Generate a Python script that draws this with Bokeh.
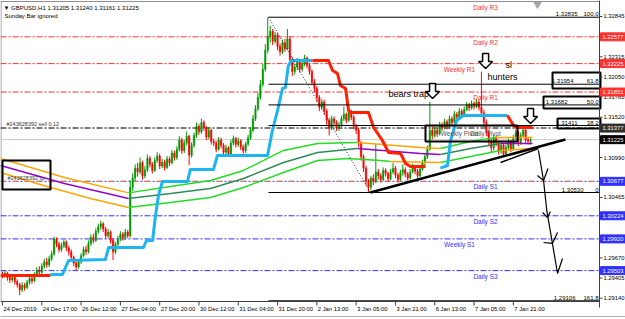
from bokeh.plotting import figure
from bokeh.models import Range1d, ColumnDataSource
from bokeh.embed import file_html
from bokeh.resources import INLINE
from bokeh.core.properties import value

# ---------------- data (GBPUSD H1) ----------------
first_open = 1.2945
closes = [
    1.2944, 1.2947, 1.2941, 1.2938, 1.2943, 1.2936, 1.2932, 1.2925, 1.2931, 1.2928,
    1.2935, 1.2940, 1.2937, 1.2945, 1.2951, 1.2948, 1.2956, 1.2962, 1.2958, 1.2966,
    1.2972, 1.2992, 1.2985, 1.2978, 1.2983, 1.2988, 1.2980, 1.2975, 1.2968, 1.2960,
    1.2955, 1.2962, 1.2970, 1.2978, 1.2975, 1.2986, 1.2994, 1.2990, 1.3002, 1.3008,
    1.3012, 1.3005, 1.2996, 1.3001, 1.2990, 1.2975, 1.2985, 1.2992, 1.2998, 1.2994,
    1.3001, 1.2996, 1.3060, 1.3072, 1.3085, 1.3080, 1.3092, 1.3075, 1.3083, 1.3098,
    1.3090, 1.3082, 1.3095, 1.3101, 1.3088, 1.3093, 1.3086, 1.3097, 1.3092, 1.3105,
    1.3099, 1.3110, 1.3122, 1.3108, 1.3118, 1.3127, 1.3102, 1.3115, 1.3128, 1.3140,
    1.3133, 1.3145, 1.3138, 1.3126, 1.3135, 1.3120, 1.3118, 1.3110, 1.3122, 1.3115,
    1.3106, 1.3112, 1.3104, 1.3118, 1.3124, 1.3116, 1.3121, 1.3113, 1.3108, 1.3117,
    1.3125, 1.3135, 1.3150, 1.3163, 1.3178, 1.3195, 1.3215, 1.3240, 1.3258, 1.3265,
    1.3252, 1.3260, 1.3245, 1.3238, 1.3250, 1.3242, 1.3255, 1.3228, 1.3212, 1.3218,
    1.3225, 1.3215, 1.3222, 1.3230, 1.3220, 1.3212, 1.3198, 1.3190, 1.3178, 1.3165,
    1.3172, 1.3160, 1.3148, 1.3138, 1.3150, 1.3145, 1.3138, 1.3142, 1.3150, 1.3156,
    1.3148, 1.3160, 1.3152, 1.3140, 1.3135, 1.3118, 1.3100, 1.3085, 1.3068, 1.3060,
    1.3072, 1.3068, 1.3080, 1.3075, 1.3070, 1.3082, 1.3078, 1.3071, 1.3080, 1.3085,
    1.3076, 1.3070, 1.3079, 1.3083, 1.3077, 1.3072, 1.3080, 1.3086, 1.3081, 1.3075,
    1.3084, 1.3092, 1.3100, 1.3110, 1.3135, 1.3128, 1.3135, 1.3130, 1.3142, 1.3138,
    1.3146, 1.3140, 1.3150, 1.3145, 1.3156, 1.3152, 1.3160, 1.3155, 1.3162, 1.3168,
    1.3164, 1.3170, 1.3166, 1.3172, 1.3165, 1.3158, 1.3145, 1.3132, 1.3120, 1.3112,
    1.3125, 1.3118, 1.3108, 1.3115, 1.3104, 1.3112, 1.3120, 1.3110, 1.3125, 1.3132,
    1.3118, 1.3128, 1.3135, 1.3122, 1.31205, 1.31225,
]
highs = [
    1.2949, 1.2950, 1.2949, 1.2944, 1.2946, 1.2945, 1.2939, 1.2934, 1.2935, 1.2934,
    1.2938, 1.2943, 1.2944, 1.2948, 1.2955, 1.2956, 1.2960, 1.2966, 1.2967, 1.2970,
    1.2976, 1.2995, 1.2994, 1.2988, 1.2987, 1.2991, 1.2990, 1.2983, 1.2978, 1.2970,
    1.2963, 1.2965, 1.2973, 1.2982, 1.2983, 1.2990, 1.2998, 1.2999, 1.3006, 1.3012,
    1.3016, 1.3014, 1.3008, 1.3005, 1.3003, 1.2993, 1.2988, 1.2996, 1.3002, 1.3001,
    1.3005, 1.3004, 1.3069, 1.3078, 1.3090, 1.3092, 1.3099, 1.3095, 1.3088, 1.3103,
    1.3101, 1.3093, 1.3099, 1.3106, 1.3104, 1.3097, 1.3096, 1.3101, 1.3100, 1.3109,
    1.3108, 1.3114, 1.3127, 1.3125, 1.3122, 1.3133, 1.3129, 1.3119, 1.3132, 1.3145,
    1.3143, 1.3150, 1.3148, 1.3140, 1.3139, 1.3137, 1.3124, 1.3121, 1.3126, 1.3125,
    1.3118, 1.3116, 1.3114, 1.3122, 1.3128, 1.3126, 1.3125, 1.3123, 1.3116, 1.3120,
    1.3129, 1.3139, 1.3155, 1.3168, 1.3184, 1.3201, 1.3222, 1.3248, 1.32835, 1.3272,
    1.3268, 1.3264, 1.3263, 1.3249, 1.3254, 1.3255, 1.3268, 1.3258, 1.3231, 1.3222,
    1.3230, 1.3228, 1.3226, 1.3234, 1.3232, 1.3223, 1.3215, 1.3202, 1.3193, 1.3181,
    1.3176, 1.3175, 1.3163, 1.3151, 1.3154, 1.3153, 1.3148, 1.3146, 1.3154, 1.3166,
    1.3158, 1.3164, 1.3162, 1.3155, 1.3143, 1.3138, 1.3121, 1.3103, 1.3088, 1.3071,
    1.3075, 1.3077, 1.3117, 1.3084, 1.3078, 1.3086, 1.3085, 1.3080, 1.3084, 1.3092,
    1.3088, 1.3079, 1.3083, 1.3090, 1.3086, 1.3080, 1.3084, 1.3091, 1.3089, 1.3084,
    1.3088, 1.3096, 1.3104, 1.3115, 1.3172, 1.3140, 1.3139, 1.3138, 1.3146, 1.3145,
    1.3150, 1.3149, 1.3154, 1.3153, 1.3160, 1.3159, 1.3164, 1.3163, 1.3166, 1.3172,
    1.3171, 1.3174, 1.3173, 1.3176, 1.3175, 1.3212, 1.3162, 1.3149, 1.3136, 1.3124,
    1.3129, 1.3128, 1.3121, 1.3119, 1.3117, 1.3116, 1.3124, 1.3122, 1.3129, 1.3136,
    1.3134, 1.3132, 1.3139, 1.3137, 1.3126, 1.31240,
]
lows = [
    1.2940, 1.2941, 1.2937, 1.2934, 1.2935, 1.2932, 1.2928, 1.2918, 1.2922, 1.2924,
    1.2926, 1.2932, 1.2933, 1.2935, 1.2943, 1.2944, 1.2946, 1.2953, 1.2954, 1.2955,
    1.2963, 1.2970, 1.2981, 1.2974, 1.2975, 1.2980, 1.2976, 1.2970, 1.2964, 1.2956,
    1.2951, 1.2953, 1.2959, 1.2968, 1.2971, 1.2973, 1.2983, 1.2986, 1.2988, 1.2999,
    1.3004, 1.3001, 1.2992, 1.2993, 1.2986, 1.2964, 1.2972, 1.2982, 1.2989, 1.2990,
    1.2991, 1.2993, 1.2994, 1.3055, 1.3068, 1.3074, 1.3077, 1.3070, 1.3072, 1.3080,
    1.3086, 1.3078, 1.3080, 1.3092, 1.3084, 1.3085, 1.3082, 1.3084, 1.3088, 1.3090,
    1.3095, 1.3096, 1.3107, 1.3104, 1.3105, 1.3115, 1.3089, 1.3099, 1.3112, 1.3125,
    1.3129, 1.3130, 1.3134, 1.3122, 1.3123, 1.3116, 1.3114, 1.3106, 1.3108, 1.3111,
    1.3102, 1.3103, 1.3100, 1.3102, 1.3115, 1.3112, 1.3113, 1.3109, 1.3104, 1.3105,
    1.3114, 1.3122, 1.3132, 1.3147, 1.3160, 1.3175, 1.3192, 1.3212, 1.3236, 1.3250,
    1.3247, 1.3249, 1.3240, 1.3233, 1.3235, 1.3238, 1.3240, 1.3222, 1.3206, 1.3208,
    1.3214, 1.3211, 1.3212, 1.3219, 1.3216, 1.3208, 1.3194, 1.3185, 1.3172, 1.3160,
    1.3162, 1.3155, 1.3142, 1.3128, 1.3135, 1.3140, 1.3134, 1.3134, 1.3139, 1.3147,
    1.3144, 1.3146, 1.3148, 1.3136, 1.3130, 1.3113, 1.3095, 1.3080, 1.3062, 1.3053,
    1.3056, 1.3063, 1.3065, 1.3070, 1.3066, 1.3068, 1.3074, 1.3067, 1.3069, 1.3077,
    1.3072, 1.3066, 1.3068, 1.3075, 1.3073, 1.3068, 1.3070, 1.3078, 1.3077, 1.3071,
    1.3073, 1.3082, 1.3089, 1.3097, 1.3108, 1.3123, 1.3125, 1.3126, 1.3128, 1.3134,
    1.3136, 1.3136, 1.3138, 1.3141, 1.3143, 1.3148, 1.3150, 1.3151, 1.3153, 1.3160,
    1.3160, 1.3162, 1.3162, 1.3164, 1.3161, 1.3152, 1.3140, 1.3127, 1.3114, 1.3106,
    1.3108, 1.3114, 1.3103, 1.3104, 1.3100, 1.3101, 1.3109, 1.3106, 1.3108, 1.3122,
    1.3114, 1.3116, 1.3125, 1.3118, 1.3116, 1.31161,
]

time_labels = ["24 Dec 2019", "24 Dec 17:00", "26 Dec 12:00", "27 Dec 04:00", "27 Dec 20:00",
               "30 Dec 12:00", "31 Dec 04:00", "31 Dec 20:00", "2 Jan 13:00", "3 Jan 05:00",
               "3 Jan 21:00", "6 Jan 13:00", "7 Jan 05:00", "7 Jan 21:00"]
time_label_bars = [0, 16, 32, 48, 64, 80, 96, 112, 128, 144, 160, 176, 192, 208]

price_ticks = [1.32845, 1.32315, 1.32050, 1.31785, 1.31520, 1.30990, 1.30465, 1.29670, 1.29405, 1.29140]

pivot_names = ["Daily R2", "Weekly R1", "Daily R1", "Daily S1", "Daily S2", "Weekly S1", "Daily S3"]
pivot_prices = [1.32577, 1.32225, 1.31851, 1.30677, 1.30224, 1.29920, 1.29503]
daily_r3_price = 1.33035
pivot_point_price = 1.31377
order_price = 1.31377
order_label = "#243628392 sell 0.12"
tp_price = 1.30677
tp_label = "#243628392 tp"
bid_price = 1.31225

axis_box_prices = [1.32577, 1.32225, 1.31851, 1.31377, 1.31225, 1.30677, 1.30224, 1.29920, 1.29503]

fib_pct = ["100.0", "61.8", "50.0", "38.2", "0", "161.8"]
fib_prices = [1.32835, 1.31954, 1.31682, 1.31411, 1.30530, 1.29106]
fib_high_bar, fib_low_bar = 108.3, 149.8

# envelope (three moving-average bands), knots (bar, price)
env_upper_bars = [-0.8, 25.2, 51.3, 68.4, 84.7, 98.1, 114.4, 128.3, 144.5, 170.2, 178.3, 190.6, 200.7, 215.8]
env_upper = [1.30977, 1.30728, 1.30525, 1.30609, 1.30688, 1.30820, 1.31083, 1.31175, 1.31188,
             1.31122, 1.31109, 1.31201, 1.31253, 1.31253]
env_upper_up = [0, 0, 1, 1, 1, 1, 1, 1, 0, 0, 1, 1, 0]
env_mid_bars = [-0.8, 25.2, 51.3, 68.4, 84.7, 98.1, 114.4, 128.3, 144.5, 170.2, 178.3, 190.6, 202.8, 215.8]
env_mid = [1.30885, 1.30648, 1.30451, 1.30517, 1.30583, 1.30714, 1.30925, 1.31056, 1.31109,
           1.31043, 1.31030, 1.31109, 1.31175, 1.31175]
env_mid_up = [0, 0, 1, 1, 1, 1, 1, 1, 0, 0, 1, 1, 0]
env_lower_bars = [-0.8, 16.7, 35.8, 51.3, 68.4, 84.7, 98.1, 114.4, 128.3, 140.5, 153.9, 158.0,
                  178.3, 190.6, 202.8, 215.8]
env_lower = [1.30793, 1.30622, 1.30451, 1.30333, 1.30399, 1.30464, 1.30596, 1.30793, 1.30951,
             1.30977, 1.30951, 1.30938, 1.30925, 1.31004, 1.31083, 1.31109]
env_lower_up = [0, 0, 0, 1, 1, 1, 1, 1, 1, 1, 1, 0, 1, 1, 0]

# supertrend-style step line
st_red1_bars = [-0.8, 19.5]
st_red1 = [1.29439, 1.29439]
st_cyan1_bars = [19.5, 24.4, 26.9, 41.9, 43.2, 57.4, 58.6, 61.1, 62.3, 63.5, 65.1, 75.3, 76.5, 85.9,
                 87.5, 107.9, 109.9, 112.0, 114.0, 115.2, 116.4, 117.7, 126.2]
st_cyan1 = [1.29452, 1.29452, 1.29636, 1.29649, 1.29807, 1.29807, 1.29899, 1.29899, 1.30228, 1.30491,
            1.30675, 1.30675, 1.30833, 1.30833, 1.31017, 1.31017, 1.31346, 1.31609, 1.31898, 1.31911,
            1.32200, 1.32266, 1.32266]
st_red2_bars = [126.2, 132.7, 134.4, 136.4, 137.6, 139.7, 140.9, 141.7, 149.0, 151.1, 154.7, 157.2,
                162.1, 164.1, 166.1, 172.2]
st_red2 = [1.32266, 1.32266, 1.32135, 1.32095, 1.31937, 1.31898, 1.31609, 1.31582, 1.31582, 1.31385,
           1.31214, 1.31056, 1.31043, 1.30912, 1.30872, 1.30872]
st_cyan2_bars = [178.3, 181.2, 182.4, 184.9, 187.7, 205.6]
st_cyan2 = [1.30850, 1.30885, 1.31214, 1.31477, 1.31543, 1.31543]
st_red3_bars = [205.6, 208.1, 209.3, 215.8]
st_red3 = [1.31543, 1.31411, 1.31385, 1.31385]

# trend lines
trend_bars = [149.8, 229.2]
trend_prices = [1.30530, 1.31227]
trend2_bars = [202.8, 218.2]
trend2_prices = [1.30925, 1.31109]

# hand-drawn forecast path
path_bars = [218.2, 220.3, 221.6, 222.1, 223.9, 226.0, 228.0]
path_prices = [1.31083, 1.30688, 1.30294, 1.30202, 1.29860, 1.29465, 1.29662]
path_ticks_bars = [[217.8, 220.3, 222.1], [219.9, 221.9, 223.1], [220.3, 223.9, 226.0]]
path_ticks_prices = [[1.30754, 1.30688, 1.30846], [1.30267, 1.30202, 1.30280], [1.29873, 1.29860, 1.30004]]

# hollow down arrows (tip positions)
arrow_bars = [175.1, 196.7, 215.0]
arrow_tips = [1.31766, 1.32161, 1.31438]

# ---------------- geometry / style ----------------
W, H = 625, 319
PX_PER_BAR = 2.456
PPX = 0.0001315
TOP = 1.33055
FONT = "Liberation Sans"


def bx(px):
    return (px - 2) / PX_PER_BAR


def pr(py):
    return TOP - py * PPX


AXIS_BAR = bx(599)
RED = "#FF3030"
BLUE = "#3030FF"
ORANGE = "#FFA500"
PURPLE = "#9900CC"
LGREEN = "#22DD22"
TEAL = "#2E8B57"
CYAN = "#1EB4F0"
STRED = "#FF2000"

p = figure(width=W, height=H, x_range=Range1d(bx(0), bx(W)), y_range=Range1d(pr(H), pr(0)),
           output_backend="svg", toolbar_location=None, min_border=0,
           x_axis_location=None, y_axis_location=None, outline_line_color=None,
           background_fill_color="white", border_fill_color="white")
p.xgrid.visible = False
p.ygrid.visible = False


def txt(x, y, s, size="6px", color="black", align="left", baseline="middle", style="normal"):
    p.text(x=[x], y=[y], text=[s], text_font=value(FONT), text_font_size=size, text_color=color,
           text_align=align, text_baseline=baseline, text_font_style=style)


x_left = bx(0)

# frame borders
p.segment(x0=[x_left], y0=[pr(1)], x1=[AXIS_BAR], y1=[pr(1)], line_color="#909090", line_width=1)
p.segment(x0=[bx(0.5)], y0=[pr(0)], x1=[bx(0.5)], y1=[pr(301)], line_color="#909090", line_width=1)

# bid line
p.segment(x0=[x_left], y0=[bid_price], x1=[AXIS_BAR], y1=[bid_price], line_color="#C8C8C8", line_width=1)

# pivot lines
piv_cols = [RED, RED, RED, BLUE, BLUE, BLUE, BLUE]
p.segment(x0=[x_left] * len(pivot_prices), y0=pivot_prices, x1=[AXIS_BAR] * len(pivot_prices), y1=pivot_prices,
          line_color=piv_cols, line_width=1, line_dash="6 2 2 2")
# tp overlay
p.segment(x0=[x_left], y0=[tp_price], x1=[AXIS_BAR], y1=[tp_price], line_color="#FF7F30", line_width=1,
          line_dash="5 7", line_dash_offset=0)
# order / pivot line
p.segment(x0=[x_left], y0=[order_price], x1=[AXIS_BAR], y1=[order_price], line_color="#505050",
          line_width=1.5, line_dash="6 2 2 2")

# candles
n = len(closes)
opens = [first_open] + closes[:-1]
idx = list(range(n))
cols = ["#009900" if c >= o else "#FF0000" for o, c in zip(opens, closes)]
src = ColumnDataSource(dict(i=idx, h=highs, l=lows, top=[max(o, c) for o, c in zip(opens, closes)],
                            bot=[min(o, c) for o, c in zip(opens, closes)], col=cols))
p.segment(x0="i", y0="l", x1="i", y1="h", line_color="col", line_width=1, source=src)
p.vbar(x="i", width=0.62, top="top", bottom="bot", fill_color="col", line_color="col", line_width=0.4, source=src)


# envelopes
def draw_colored(bars, prices, ups, up_col, dn_col, width):
    xs, ys, cs = [], [], []
    start = 0
    for k in range(1, len(ups) + 1):
        if k == len(ups) or ups[k] != ups[start]:
            xs.append(bars[start:k + 1])
            ys.append(prices[start:k + 1])
            cs.append(up_col if ups[start] else dn_col)
            start = k
    p.multi_line(xs=xs, ys=ys, line_color=cs, line_width=width)


draw_colored(env_upper_bars, env_upper, env_upper_up, LGREEN, ORANGE, 1.4)
draw_colored(env_mid_bars, env_mid, env_mid_up, TEAL, PURPLE, 1.4)
draw_colored(env_lower_bars, env_lower, env_lower_up, LGREEN, ORANGE, 1.4)

# step line
for b, v, c in [(st_red1_bars, st_red1, STRED), (st_cyan1_bars, st_cyan1, CYAN), (st_red2_bars, st_red2, STRED),
                (st_cyan2_bars, st_cyan2, CYAN), (st_red3_bars, st_red3, STRED)]:
    p.line(b, v, line_color=c, line_width=3, line_join="round")

# fibonacci
p.segment(x0=[fib_high_bar] * len(fib_prices), y0=fib_prices, x1=[AXIS_BAR] * len(fib_prices), y1=fib_prices,
          line_color="black", line_width=1)
p.line([fib_high_bar, fib_low_bar], [fib_prices[0], fib_prices[4]], line_color="#222222", line_width=1,
       line_dash="1 2")
fib_price_end = [577, 573, 567, 577, 583, 575]
for pct, v, xe in zip(fib_pct, fib_prices, fib_price_end):
    txt(bx(xe), v + 1 * PPX, f"{v:.5f}", size="6px", align="right", baseline="bottom")
    txt(bx(598), v + 1 * PPX, pct, size="6px", align="right", baseline="bottom")

# trend lines
p.line(trend_bars, trend_prices, line_color="black", line_width=2.5)
p.line(trend2_bars, trend2_prices, line_color="black", line_width=1.5)

# boxes
box_l = [bx(2), bx(425), bx(552), bx(543), bx(557)]
box_r = [bx(50), bx(517), bx(600), bx(600), bx(600)]
box_t = [pr(160), pr(125), pr(72), pr(96), pr(118)]
box_b = [pr(189), pr(141), pr(88), pr(108), pr(128)]
p.quad(left=box_l, right=box_r, top=box_t, bottom=box_b, fill_color=None, line_color="black", line_width=2)

# forecast path
p.line(path_bars, path_prices, line_color="black", line_width=1.2)
p.multi_line(xs=path_ticks_bars, ys=path_ticks_prices, line_color="black", line_width=1.2)

# hollow arrows
shape = [(0, 0), (-7, 7), (-3, 7), (-3, 15), (3, 15), (3, 7), (7, 7)]
axs = [[b + dx / PX_PER_BAR for dx, dy in shape] for b in arrow_bars]
ays = [[t + dy * PPX for dx, dy in shape] for t in arrow_tips]
p.patches(xs=axs, ys=ays, fill_color="white", line_color="black", line_width=1.5)

# pivot labels
for name, v, c in zip(pivot_names, pivot_prices, piv_cols):
    cx = bx(459) if name.startswith("Weekly") else bx(485)
    txt(cx, v - 5.5 * PPX, name, size="6.5px", color=c, align="center")
txt(bx(485), daily_r3_price - 5.5 * PPX, "Daily R3", size="6.5px", color=RED, align="center")
txt(bx(459), pivot_point_price - 5.5 * PPX, "Weekly Pivot", size="6.5px", color="#555555", align="center")
txt(bx(485), pivot_point_price - 5.5 * PPX, "Daily Pivot", size="6.5px", color="#555555", align="center")

# order labels
txt(bx(6), order_price + 1 * PPX, order_label, size="5.5px", color="#333333", baseline="bottom")
txt(bx(7), tp_price + 3.5 * PPX, tp_label, size="5.5px", color="#333333")

# annotations
txt(bx(388), pr(93), "bears trap", size="9px")
txt(bx(505), pr(64), "sl", size="9px")
txt(bx(487), pr(76), "hunters", size="9px")

# chart shift marker
p.scatter(x=[bx(537)], y=[pr(4)], marker="inverted_triangle", size=7, fill_color="#A8A8A8", line_color="#A8A8A8")

# title
txt(bx(3), pr(7), "\u25bc GBPUSD,H1  1.31205 1.31240 1.31161 1.31225", size="6px")
txt(bx(4), pr(15.5), "Sunday Bar ignored", size="6px")

# time axis
p.segment(x0=[x_left], y0=[pr(301)], x1=[AXIS_BAR], y1=[pr(301)], line_color="#404040", line_width=1)
p.segment(x0=time_label_bars, y0=[pr(301)] * len(time_label_bars), x1=time_label_bars,
          y1=[pr(305)] * len(time_label_bars), line_color="#404040", line_width=1)
for b, s in zip(time_label_bars, time_labels):
    p.text(x=[b + 1 / PX_PER_BAR], y=[pr(308)], text=[s], text_font=value(FONT), text_font_size="5.8px",
           text_color="black", text_align="left", text_baseline="middle")
p.segment(x0=[x_left], y0=[pr(316)], x1=[bx(W)], y1=[pr(316)], line_color="#B0B0B0", line_width=1)

# price axis
p.segment(x0=[AXIS_BAR], y0=[pr(0)], x1=[AXIS_BAR], y1=[pr(307)], line_color="#404040", line_width=1)
p.segment(x0=[AXIS_BAR] * len(price_ticks), y0=price_ticks, x1=[bx(602)] * len(price_ticks), y1=price_ticks,
          line_color="#404040", line_width=1)
p.text(x=[bx(603)] * len(price_ticks), y=price_ticks, text=[f"{v:.5f}" for v in price_ticks],
       text_font=value(FONT), text_font_size="5.8px", text_color="black", text_align="left",
       text_baseline="middle")
box_cols = [RED, RED, RED, "#303030", "#000000", BLUE, BLUE, BLUE, BLUE]
p.rect(x=[bx(612.5)] * len(axis_box_prices), y=axis_box_prices, width=25, height=8, width_units="screen",
       height_units="screen", fill_color=box_cols, line_color=box_cols)
p.text(x=[bx(602)] * len(axis_box_prices), y=axis_box_prices, text=[f"{v:.5f}" for v in axis_box_prices],
       text_font=value(FONT), text_font_size="5.8px", text_color="white", text_align="left",
       text_baseline="middle")

open("out.html", "w").write(file_html(p, INLINE))
